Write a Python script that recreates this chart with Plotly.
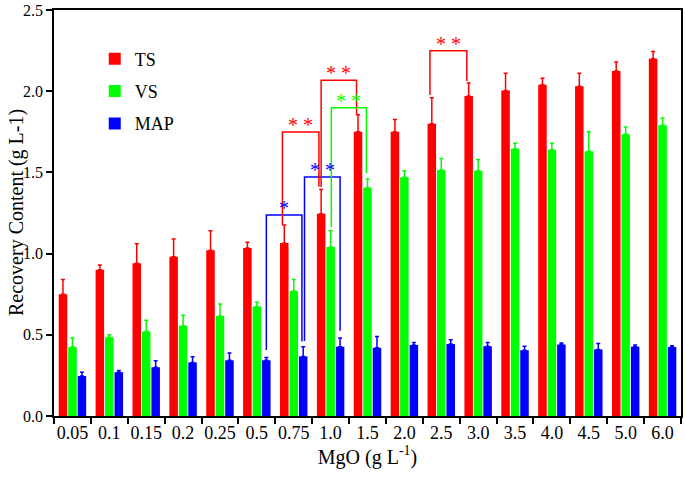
import plotly.graph_objects as go

# ---- data ----
categories = ["0.05", "0.1", "0.15", "0.2", "0.25", "0.5", "0.75", "1.0", "1.5",
              "2.0", "2.5", "3.0", "3.5", "4.0", "4.5", "5.0", "6.0"]
ts_values = [0.75, 0.90, 0.94, 0.98, 1.02, 1.035, 1.065, 1.245, 1.75,
             1.75, 1.80, 1.97, 2.005, 2.04, 2.03, 2.125, 2.20]
ts_err_top = [0.84, 0.93, 1.06, 1.09, 1.14, 1.07, 1.176, 1.395, 1.855,
              1.825, 1.96, 2.05, 2.11, 2.08, 2.11, 2.18, 2.245]
vs_values = [0.425, 0.485, 0.52, 0.555, 0.615, 0.675, 0.77, 1.04, 1.405,
             1.47, 1.515, 1.51, 1.645, 1.64, 1.63, 1.735, 1.79]
vs_err_top = [0.48, 0.50, 0.59, 0.62, 0.69, 0.70, 0.84, 1.14, 1.46,
              1.51, 1.585, 1.58, 1.68, 1.68, 1.75, 1.78, 1.835]
map_values = [0.246, 0.27, 0.30, 0.33, 0.343, 0.343, 0.367, 0.427, 0.42,
              0.437, 0.443, 0.43, 0.405, 0.44, 0.41, 0.427, 0.425]
map_err_top = [0.27, 0.28, 0.34, 0.365, 0.388, 0.36, 0.427, 0.48, 0.49,
               0.453, 0.47, 0.453, 0.43, 0.45, 0.447, 0.437, 0.433]
y_ticks = [0.0, 0.5, 1.0, 1.5, 2.0, 2.5]

series_names = ["TS", "VS", "MAP"]
colors = {"TS": "#FF0000", "VS": "#00FF00", "MAP": "#0000FF"}

FONT = "Liberation Serif"
x_idx = list(range(len(categories)))

fig = go.Figure()
for name, vals, tops in [("TS", ts_values, ts_err_top),
                         ("VS", vs_values, vs_err_top),
                         ("MAP", map_values, map_err_top)]:
    fig.add_trace(go.Bar(
        x=x_idx, y=vals, name=name, legendgroup=name,
        marker=dict(color=colors[name], line=dict(width=0)),
        error_y=dict(type="data", symmetric=False,
                     array=[t - v for t, v in zip(tops, vals)],
                     arrayminus=[0] * len(vals),
                     color=colors[name], thickness=1.5, width=2),
    ))

# significance brackets: (color, x_left, x_right, level, left_bottom, right_bottom, label)
slot = 0.257
brackets = [
    ("#0000FF", 5 + slot, 6 + slot - 0.035, 1.238, 0.406, 0.459, "*"),
    ("#0000FF", 6 + slot + 0.035, 7 + slot, 1.472, 0.462, 0.525, "* *"),
    ("#FF0000", 6 - slot - 0.05, 7 - slot - 0.06, 1.749, 1.176, 1.412, "* *"),
    ("#FF0000", 7 - slot, 8 - slot - 0.04, 2.067, 1.41, 1.855, "* *"),
    ("#00FF00", 7 + 0.02, 8 - 0.03, 1.898, 1.164, 1.494, "* *"),
    ("#FF0000", 10 - slot - 0.05, 11 - slot - 0.05, 2.249, 1.977, 2.063, "* *"),
]
for col, xl, xr, lvl, lb, rb, lab in brackets:
    fig.add_trace(go.Scatter(
        x=[xl, xl, xr, xr], y=[lb, lvl, lvl, rb], mode="lines",
        line=dict(color=col, width=1.5), showlegend=False, hoverinfo="skip"))
    fig.add_annotation(x=(xl + xr) / 2, y=lvl, text=lab, showarrow=False,
                       yanchor="bottom", yshift=-6,
                       font=dict(family=FONT, size=20, color=col))

# y-axis title placed as a rotated annotation to the left of the tick labels
fig.add_annotation(xref="paper", yref="paper", x=0, y=0.5, xanchor="center",
                   yanchor="middle", xshift=-38, textangle=-90, showarrow=False,
                   borderpad=0,
                   text="Recovery Content (g L-1)",
                   font=dict(family=FONT, size=20, color="black"))

fig.update_layout(
    width=685, height=477,
    margin=dict(l=54, r=4, t=10, b=61),
    paper_bgcolor="white", plot_bgcolor="white",
    barmode="group", bargap=0.23, bargroupgap=0.1,
    font=dict(family=FONT, color="black"),
    legend=dict(x=0.065, y=0.925, xanchor="left", yanchor="top",
                bgcolor="rgba(0,0,0,0)", font=dict(family=FONT, size=18),
                tracegroupgap=6, traceorder="grouped"),
    xaxis=dict(
        range=[-0.5, len(categories) - 0.5],
        tickmode="array", tickvals=x_idx, ticktext=categories,
        ticks="", showgrid=False, zeroline=False,
        showline=True, linecolor="black", linewidth=1.5, mirror=True,
        tickfont=dict(family=FONT, size=18),
        minor=dict(tickmode="array",
                   tickvals=[i - 0.5 for i in range(len(categories) + 1)],
                   ticks="outside", ticklen=6, tickwidth=1.5, tickcolor="black",
                   showgrid=False),
        title=dict(text="MgO (g L<sup>-1</sup>)", font=dict(family=FONT, size=20),
                   standoff=4),
        automargin=False,
    ),
    yaxis=dict(
        range=[0, 2.5], tickmode="array", tickvals=y_ticks,
        ticktext=[f"{v:.1f}" for v in y_ticks],
        ticks="outside", ticklen=6, tickwidth=1.5, tickcolor="black",
        showgrid=False, zeroline=False,
        showline=True, linecolor="black", linewidth=1.5, mirror=True,
        tickfont=dict(family=FONT, size=16),
        automargin=False,
    ),
)

# remove the browser's default 8px body margin so the figure fills the window
fig.write_html("out.html",
               config={"displayModeBar": False},
               post_script="document.body.style.margin='0';document.body.style.overflow='hidden';")
